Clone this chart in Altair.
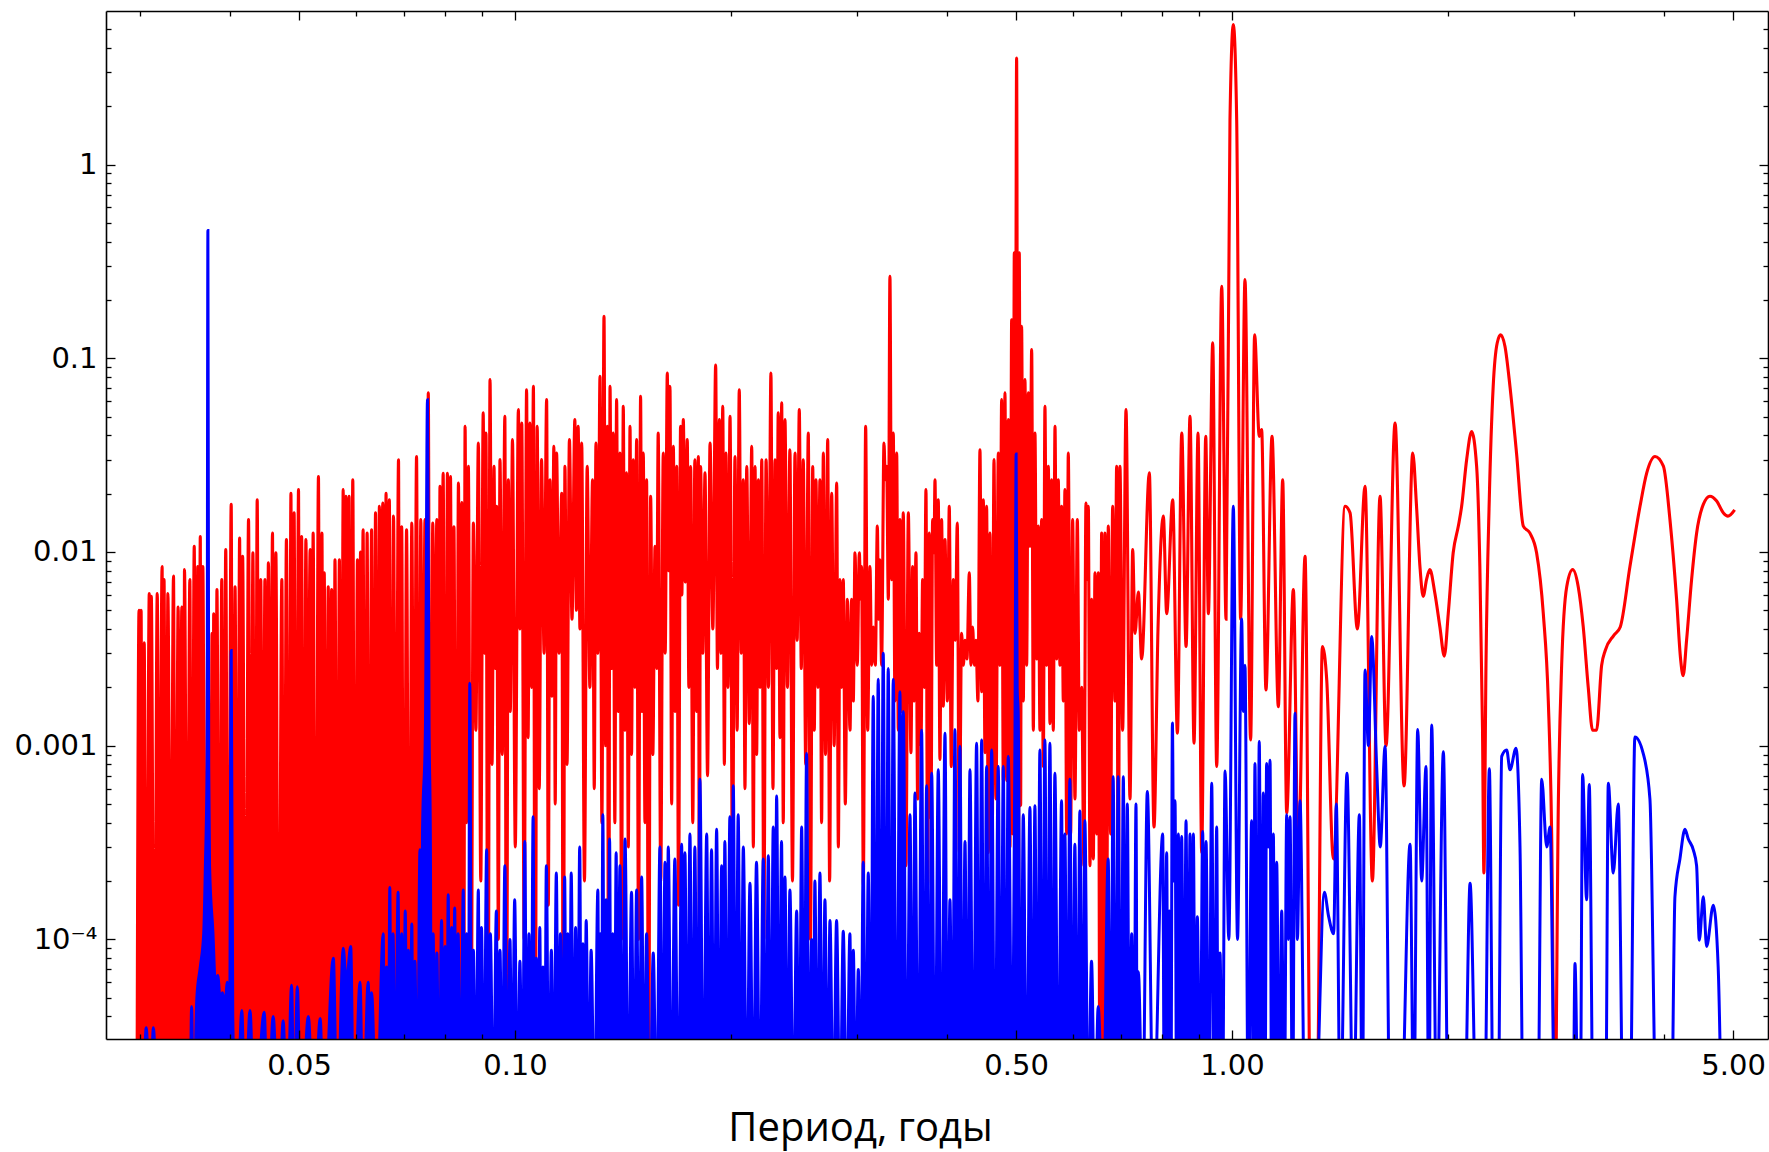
import altair as alt
import pandas as pd

# ---- data: [period (years), power] ----
red_short = [
    [0.0297, 1e-5], [0.0299, 0.0050], [0.0300, 1e-5], [0.0301, 0.0050], [0.0302, 4e-5], [0.0304, 0.0034],
    [0.0306, 1e-5], [0.0309, 0.0061], [0.0310, 5e-5], [0.0311, 0.0059], [0.0314, 1e-5], [0.0317, 0.0061],
    [0.0319, 6e-5], [0.0322, 0.0084], [0.0323, 1e-5], [0.0324, 0.0072], [0.0326, 1e-5], [0.0328, 0.0061],
    [0.0331, 5e-5], [0.0334, 0.0075], [0.0336, 1e-5], [0.0339, 0.0052], [0.0341, 5e-5], [0.0343, 0.0052],
    [0.0345, 1e-5], [0.0346, 0.0081], [0.0349, 4e-5], [0.0352, 0.0072], [0.0354, 1e-5], [0.0357, 0.0107],
    [0.0359, 1e-5], [0.0361, 0.0084], [0.0362, 1e-5], [0.0364, 0.0120], [0.0365, 1e-5], [0.0367, 0.0084],
    [0.0370, 1e-5], [0.0373, 0.0045], [0.0376, 1e-5], [0.0378, 0.0038], [0.0379, 1e-5], [0.0380, 0.0048],
    [0.0382, 1e-5], [0.0384, 0.0064], [0.0387, 1e-5], [0.0390, 0.0072], [0.0392, 1e-5], [0.0395, 0.0103],
    [0.0398, 1e-5], [0.0402, 0.0176], [0.0404, 1e-5], [0.0407, 0.0066], [0.0410, 1e-5], [0.0413, 0.0118],
    [0.0415, 1e-5], [0.0417, 0.0095], [0.0421, 1e-5], [0.0425, 0.0147], [0.0428, 1e-5], [0.0431, 0.0099],
    [0.0434, 1e-5], [0.0437, 0.0186], [0.0440, 1e-5], [0.0442, 0.0072], [0.0445, 4e-5], [0.0448, 0.0072],
    [0.0450, 1e-5], [0.0453, 0.0088], [0.0456, 2e-4], [0.0459, 0.0125], [0.0461, 1e-5], [0.0464, 0.0099],
    [0.0468, 1e-5], [0.0473, 0.0072], [0.0476, 1e-5], [0.0480, 0.0116], [0.0484, 1e-5], [0.0487, 0.0201],
    [0.0489, 1e-5], [0.0492, 0.0159], [0.0495, 1e-5], [0.0499, 0.0210], [0.0501, 1e-5], [0.0504, 0.0120],
    [0.0507, 1e-5], [0.0511, 0.0116], [0.0514, 3e-4], [0.0518, 0.0103], [0.0520, 1e-5], [0.0523, 0.0125],
    [0.0527, 1e-5], [0.0532, 0.0245], [0.0535, 1e-5], [0.0538, 0.0125], [0.0540, 1e-4], [0.0542, 0.0078],
    [0.0545, 1e-5], [0.0549, 0.0066], [0.0552, 1e-5], [0.0555, 0.0064], [0.0558, 1e-5], [0.0561, 0.0091],
    [0.0565, 1e-5], [0.0569, 0.0091], [0.0572, 1e-5], [0.0576, 0.0210], [0.0578, 2e-4], [0.0581, 0.0194],
    [0.0584, 1e-5], [0.0587, 0.0194], [0.0590, 1e-5], [0.0594, 0.0236], [0.0598, 1e-5], [0.0603, 0.0091],
    [0.0606, 1e-5], [0.0609, 0.0100], [0.0611, 5e-4], [0.0614, 0.0130], [0.0618, 1e-5], [0.0622, 0.0125],
    [0.0626, 1e-5], [0.0631, 0.0130], [0.0635, 1e-5], [0.0639, 0.0159], [0.0643, 1e-5], [0.0647, 0.0172],
    [0.0650, 3e-4], [0.0654, 0.0179], [0.0657, 1e-5], [0.0661, 0.0201], [0.0664, 1e-5], [0.0668, 0.0186],
    [0.0672, 1e-5], [0.0677, 0.0153], [0.0682, 1e-4], [0.0688, 0.0299], [0.0691, 1e-5], [0.0695, 0.0135],
    [0.0700, 1e-5], [0.0706, 0.0130], [0.0712, 1e-5], [0.0718, 0.0141], [0.0723, 1e-4], [0.0729, 0.0311],
    [0.0734, 1e-5], [0.0739, 0.0147], [0.0744, 3e-4], [0.0749, 0.0147], [0.0753, 1e-5], [0.0757, 0.0662],
    [0.0762, 1e-5], [0.0768, 0.0141], [0.0773, 8e-4], [0.0778, 0.0147], [0.0782, 1e-5], [0.0786, 0.0218],
    [0.0790, 1e-3], [0.0794, 0.0255], [0.0800, 1e-5], [0.0805, 0.0255], [0.0809, 6e-4], [0.0813, 0.0245],
    [0.0818, 1e-5], [0.0822, 0.0135], [0.0828, 1e-5], [0.0834, 0.0227], [0.0838, 3e-4], [0.0843, 0.0180],
    [0.0848, 1e-5],
]

red_mid = [
    [0.0852, 0.0445], [0.0856, 4e-4], [0.0861, 0.0277], [0.0868, 1e-5], [0.0875, 0.0141], [0.0882, 1.2e-3],
    [0.0889, 0.0365], [0.0896, 2e-4], [0.0903, 0.0522], [0.0907, 3e-3], [0.0911, 0.0411], [0.0917, 1e-5],
    [0.0923, 0.0775], [0.0929, 8e-4], [0.0935, 0.0277], [0.0939, 2.5e-3], [0.0943, 0.0172], [0.0948, 1e-4],
    [0.0953, 0.0300], [0.0960, 9e-4], [0.0968, 0.0501], [0.0973, 1e-5], [0.0979, 0.0236], [0.0985, 1.5e-3],
    [0.0992, 0.0380], [0.1001, 3e-4], [0.1011, 0.0543], [0.1016, 4e-3], [0.1022, 0.0463], [0.1030, 1e-4],
    [0.1038, 0.0688], [0.1043, 1.1e-3], [0.1049, 0.0463], [0.1055, 2e-3], [0.1061, 0.0716], [0.1067, 1e-5],
    [0.1074, 0.0445], [0.1081, 6e-4], [0.1089, 0.0300], [0.1098, 3e-3], [0.1107, 0.0611], [0.1113, 1.5e-4],
    [0.1119, 0.0236], [0.1126, 1.8e-3], [0.1133, 0.0351], [0.1138, 5e-4], [0.1143, 0.0324], [0.1152, 3e-3],
    [0.1162, 0.0201], [0.1168, 1e-5], [0.1174, 0.0277], [0.1182, 8e-4], [0.1191, 0.0380], [0.1201, 4.5e-3],
    [0.1212, 0.0482], [0.1218, 5e-3], [0.1225, 0.0445], [0.1232, 4e-3], [0.1239, 0.0365], [0.1250, 2e-4],
    [0.1261, 0.0277], [0.1272, 2e-3], [0.1283, 0.0236], [0.1290, 6e-4], [0.1297, 0.0365], [0.1305, 3e-3],
    [0.1314, 0.0806], [0.1322, 4e-4], [0.1331, 0.1646], [0.1338, 1e-3], [0.1345, 0.0445], [0.1351, 1e-5],
    [0.1357, 0.0716], [0.1364, 2.5e-3], [0.1371, 0.0411], [0.1378, 4e-4], [0.1386, 0.0611], [0.1393, 1.5e-3],
    [0.1401, 0.0324], [0.1408, 1e-4], [0.1416, 0.0564], [0.1423, 1.2e-3], [0.1431, 0.0256], [0.1439, 3e-4],
    [0.1447, 0.0445], [0.1454, 9e-4], [0.1462, 0.0299], [0.1470, 2e-3], [0.1478, 0.0380], [0.1487, 1e-4],
    [0.1497, 0.0636], [0.1503, 1.5e-3], [0.1510, 0.0324], [0.1518, 4e-4], [0.1526, 0.0236], [0.1536, 1e-5],
    [0.1546, 0.0194], [0.1557, 9e-4], [0.1568, 0.0107], [0.1576, 2.5e-3], [0.1584, 0.0411], [0.1597, 2e-4],
    [0.1610, 0.0324], [0.1620, 3e-3], [0.1631, 0.0839], [0.1638, 8e-3], [0.1645, 0.0716], [0.1654, 5e-4],
    [0.1663, 0.0351], [0.1672, 1.5e-3], [0.1681, 0.0277], [0.1691, 1.5e-4], [0.1702, 0.0445], [0.1709, 6e-3],
    [0.1717, 0.0482], [0.1728, 7e-3], [0.1739, 0.0380], [0.1748, 2e-3], [0.1758, 0.0276], [0.1770, 4e-4],
    [0.1782, 0.0299], [0.1792, 1.5e-3], [0.1802, 0.0311], [0.1808, 1e-4], [0.1815, 0.0276], [0.1828, 3e-3],
    [0.1841, 0.0256], [0.1856, 7e-4], [0.1871, 0.0365], [0.1888, 4e-3], [0.1905, 0.0923], [0.1916, 2.5e-3],
    [0.1928, 0.0482], [0.1938, 3e-3], [0.1949, 0.0564], [0.1959, 8e-4], [0.1969, 0.0324], [0.1982, 2e-3],
    [0.1995, 0.0501], [0.2011, 2e-4], [0.2027, 0.0311], [0.2041, 1.2e-3], [0.2055, 0.0688], [0.2068, 3e-3],
    [0.2082, 0.0236], [0.2093, 6e-4], [0.2105, 0.0276], [0.2122, 1.3e-3], [0.2139, 0.0351], [0.2150, 3e-4],
    [0.2162, 0.0276], [0.2173, 9e-4], [0.2185, 0.0236], [0.2197, 2e-3], [0.2209, 0.0299], [0.2224, 1e-4],
    [0.2240, 0.0299], [0.2257, 2e-3], [0.2275, 0.0839], [0.2290, 6e-4], [0.2305, 0.0299], [0.2317, 2.5e-3],
    [0.2329, 0.0522], [0.2342, 1.1e-3], [0.2355, 0.0588], [0.2367, 4e-4], [0.2380, 0.0482], [0.2399, 2e-3],
    [0.2418, 0.0337], [0.2438, 2e-4], [0.2458, 0.0324], [0.2475, 3.5e-3], [0.2492, 0.0543], [0.2508, 2.5e-3],
    [0.2524, 0.0299], [0.2544, 8e-4], [0.2565, 0.0411], [0.2583, 1e-4], [0.2602, 0.0276], [0.2615, 1.2e-3],
    [0.2629, 0.0236], [0.2646, 2e-3], [0.2663, 0.0236], [0.2677, 4e-4], [0.2692, 0.0324], [0.2711, 9e-4],
    [0.2730, 0.0380], [0.2747, 2e-4], [0.2765, 0.0201], [0.2787, 1e-3], [0.2810, 0.0227], [0.2825, 3e-4],
    [0.2840, 0.0072], [0.2855, 2e-3], [0.2870, 0.0072], [0.2889, 5e-4], [0.2908, 0.0057],
]

red_semiannual = [
    [0.2933, 0.0012], [0.2948, 0.0057], [0.2964, 0.0017], [0.2980, 0.0099], [0.3002, 0.0026], [0.3022, 0.0099],
    [0.3035, 0.0057], [0.3044, 0.0084], [0.3061, 0.00019], [0.3084, 0.0445], [0.3104, 0.0012], [0.3127, 0.0084],
    [0.3144, 0.0026], [0.3161, 0.0041], [0.3181, 0.0026], [0.3202, 0.0136], [0.3215, 0.0045], [0.3229, 0.0091],
    [0.3246, 0.0026], [0.3271, 0.0365], [0.3285, 0.0236], [0.3299, 0.0277], [0.3317, 0.0057], [0.3334, 0.265],
    [0.3352, 0.0072], [0.3370, 0.0411], [0.3388, 0.0017], [0.3407, 0.0324], [0.3425, 0.0012], [0.3443, 0.0147],
    [0.3462, 0.0015], [0.3480, 0.0159], [0.3510, 0.00024], [0.3537, 0.0159], [0.3567, 0.00092], [0.3586, 0.0084],
    [0.3602, 0.0017], [0.3625, 0.0099], [0.3644, 0.00053], [0.3664, 0.0038], [0.3684, 0.0010], [0.3703, 0.0072],
    [0.3723, 0.0020], [0.3743, 0.0210], [0.3763, 0.00019], [0.3783, 0.0125], [0.3804, 0.00042], [0.3824, 0.0147],
    [0.3841, 0.0099], [0.3853, 0.0236], [0.3874, 0.0026], [0.3894, 0.0186], [0.3915, 0.00085], [0.3936, 0.0147],
    [0.3957, 0.0016], [0.3979, 0.0116], [0.4009, 0.0017], [0.4034, 0.0172], [0.4060, 0.00078], [0.4087, 0.0072],
    [0.4113, 0.0035], [0.4139, 0.0141], [0.4166, 0.00028], [0.4197, 0.0038], [0.4220, 0.0026], [0.4243, 0.0035],
    [0.4270, 0.0028], [0.4302, 0.0078], [0.4325, 0.0026], [0.4348, 0.0041], [0.4372, 0.0026], [0.4395, 0.0035],
    [0.4423, 0.0017], [0.4452, 0.0337], [0.4476, 0.0019], [0.4500, 0.0186], [0.4524, 0.00092], [0.4548, 0.0172],
    [0.4573, 0.00028], [0.4597, 0.0125], [0.4627, 0.00019], [0.4657, 0.0300], [0.4687, 0.00053], [0.4722, 0.0324],
    [0.4747, 0.0026], [0.4773, 0.0611], [0.4798, 0.00066], [0.4824, 0.0662], [0.4850, 0.00066], [0.4876, 0.0482],
    [0.4902, 0.00030], [0.4929, 0.158], [0.4950, 0.00035], [0.4971, 0.350], [0.4987, 0.0125], [0.5008, 3.54],
    [0.5035, 1e-5], [0.5051, 0.350], [0.5073, 0.00049], [0.5089, 0.146], [0.5117, 0.0017], [0.5144, 0.0775],
    [0.5172, 0.0026], [0.5200, 0.0662], [0.5227, 0.0107], [0.5256, 0.111], [0.5284, 0.0012], [0.5312, 0.0411],
    [0.5341, 0.0028], [0.5369, 0.0136], [0.5398, 0.0012], [0.5427, 0.0147], [0.5456, 0.00078], [0.5485, 0.0565],
    [0.5515, 0.0026], [0.5545, 0.0277], [0.5574, 0.0013], [0.5604, 0.0236], [0.5634, 0.0012], [0.5665, 0.0445],
    [0.5695, 0.0028], [0.5725, 0.0236], [0.5756, 0.0026], [0.5787, 0.0172], [0.5818, 0.0017], [0.5849, 0.0210],
    [0.5881, 0.00035], [0.5912, 0.0324], [0.5957, 0.00035], [0.5995, 0.0147], [0.6040, 0.00053], [0.6086, 0.0147],
    [0.6125, 0.0012], [0.6171, 0.0020], [0.6217, 0.00024], [0.6257, 0.0179], [0.6284, 0.0072], [0.6305, 0.0172],
    [0.6338, 0.00024], [0.6372, 0.0057], [0.6407, 0.00026], [0.6441, 0.0078], [0.6476, 0.00035], [0.6510, 0.0078],
    [0.6545, 1e-5], [0.6580, 0.0125], [0.6616, 1e-5], [0.6651, 0.0125], [0.6687, 7.2e-5], [0.6723, 0.0136],
    [0.6773, 0.00035], [0.6817, 0.0172], [0.6868, 0.0017], [0.6905, 0.0277], [0.6942, 0.000107], [0.6979, 0.0277],
    [0.7039, 0.0012],
]

red_annual = [
    [0.7116, 0.0543], [0.7208, 0.00053], [0.7270, 0.0103], [0.7325, 0.0038], [0.7404, 0.0062], [0.7483, 0.0028],
    [0.7670, 0.0256], [0.7785, 0.00038], [0.7886, 0.0040], [0.8023, 0.0153], [0.8109, 0.0048], [0.8267, 0.0186],
    [0.8393, 0.00116], [0.8511, 0.0411], [0.8630, 0.00325], [0.8740, 0.0501], [0.8853, 0.00103], [0.8968, 0.0411],
    [0.9074, 0.00028], [0.9192, 0.0395], [0.9271, 0.0048], [0.9401, 0.120], [0.9522, 0.00078], [0.9676, 0.235],
    [0.9812, 0.0045], [0.9937, 1.7], [1.0044, 5.27], [1.0153, 1.7], [1.0283, 0.0045], [1.0427, 0.255],
    [1.0618, 0.00107], [1.0755, 0.132], [1.0917, 0.0395], [1.1000, 0.0428], [1.1154, 0.00194], [1.1373, 0.0395],
    [1.1607, 0.00159], [1.1770, 0.0236], [1.1922, 0.00045], [1.2180, 0.0064], [1.2378, 0.00024], [1.2646, 0.0095],
    [1.2877, 1e-5], [1.3128, 1e-5], [1.3369, 0.00325], [1.3557, 0.00219], [1.3850, 0.00026], [1.4380, 0.0172],
    [1.4613, 0.0159], [1.4960, 0.0040], [1.5333, 0.0218], [1.5698, 0.0002], [1.6089, 0.0194], [1.6403, 0.0010],
    [1.6885, 0.0463], [1.7380, 0.00062], [1.7871, 0.0324],
]

red_long = [
    [1.809, 0.0172], [1.829, 0.0084], [1.848, 0.0059], [1.868, 0.0072], [1.888, 0.0081], [1.919, 0.0061],
    [1.950, 0.0041], [1.978, 0.0029], [2.003, 0.0048], [2.035, 0.0099], [2.069, 0.0136], [2.091, 0.0172],
    [2.125, 0.0300], [2.159, 0.0418], [2.194, 0.0277], [2.217, 0.0084], [2.236, 0.0012], [2.246, 0.00022],
    [2.261, 0.0026], [2.285, 0.0186], [2.314, 0.0716], [2.344, 0.1199], [2.370, 0.132], [2.403, 0.1153],
    [2.442, 0.0716], [2.494, 0.0324], [2.549, 0.0136], [2.604, 0.0125], [2.660, 0.0099], [2.718, 0.0048],
    [2.762, 0.0017], [2.792, 0.00035], [2.821, 1e-5], [2.853, 0.00053], [2.883, 0.0026], [2.930, 0.0066],
    [2.987, 0.0081], [3.041, 0.0066], [3.090, 0.0041], [3.140, 0.0020], [3.184, 0.0012], [3.225, 0.0012],
    [3.278, 0.0026], [3.316, 0.0031], [3.407, 0.0037], [3.480, 0.0041], [3.590, 0.0084], [3.708, 0.0172],
    [3.789, 0.0256], [3.891, 0.0311], [3.997, 0.0277], [4.082, 0.0147], [4.170, 0.0057], [4.224, 0.0028],
    [4.259, 0.0023], [4.306, 0.0035], [4.376, 0.0072], [4.447, 0.0125], [4.544, 0.0176], [4.642, 0.0194],
    [4.743, 0.0183], [4.847, 0.0159], [4.917, 0.0153], [5.025, 0.0165],
]

blue_short = [
    [0.0303, 1e-5], [0.0306, 3.5e-5], [0.0310, 1e-5], [0.0313, 3.5e-5], [0.0318, 1e-5], [0.0352, 1e-5],
    [0.0354, 4.5e-5], [0.0356, 1e-5], [0.0360, 5e-5], [0.0364, 7.2e-5], [0.0368, 1.07e-4], [0.0370, 2.4e-4],
    [0.0372, 7.8e-4], [0.0373, 0.456], [0.0374, 7.8e-4], [0.0375, 2.4e-4], [0.0379, 1.1e-4], [0.0382, 6e-5],
    [0.0385, 6.5e-5], [0.0388, 4.9e-5], [0.0391, 5.3e-5], [0.0394, 4.5e-5], [0.0397, 6e-5], [0.0400, 4e-5],
    [0.0402, 0.0031], [0.0404, 4e-5], [0.0409, 1e-5], [0.0416, 4.3e-5], [0.0420, 1e-5], [0.0427, 4.3e-5],
    [0.0433, 1e-5], [0.0447, 4.2e-5], [0.0452, 1e-5], [0.0460, 4e-5], [0.0468, 1e-5], [0.0475, 3.8e-5],
    [0.0481, 1e-5], [0.0488, 5.8e-5], [0.0492, 1e-5], [0.0497, 5.7e-5], [0.0503, 1e-5], [0.0515, 4e-5],
    [0.0524, 1e-5], [0.0535, 3.9e-5], [0.0541, 1e-5], [0.0558, 8e-5], [0.0565, 1e-5], [0.0576, 9e-5],
    [0.0582, 5.9e-5], [0.0590, 9.2e-5], [0.0596, 1e-5], [0.0608, 6e-5], [0.0614, 1e-5], [0.0624, 6e-5],
    [0.0628, 3e-5], [0.0631, 5.3e-5], [0.0641, 1e-5], [0.0655, 1.07e-4], [0.0658, 1e-5], [0.0662, 7.2e-5],
    [0.0666, 1e-5], [0.0669, 1.85e-4], [0.0672, 1e-5], [0.0676, 1.07e-4], [0.0681, 1e-5], [0.0687, 1.75e-4],
    [0.0691, 1e-5], [0.0695, 1.07e-4], [0.0699, 1e-5], [0.0703, 1.4e-4], [0.0707, 1e-5], [0.0710, 8.8e-5],
    [0.0714, 1e-5], [0.0718, 1.2e-4], [0.0721, 1e-5], [0.0725, 7.7e-5], [0.0731, 1e-5], [0.0737, 2.9e-4],
    [0.0740, 1e-5], [0.0743, 3.5e-4], [0.0750, 1.2e-3], [0.0755, 0.061], [0.0759, 1.2e-3], [0.0762, 3.5e-4],
    [0.0765, 1e-5], [0.0769, 1.07e-4], [0.0773, 1e-5], [0.0778, 8.5e-5], [0.0784, 1e-5], [0.0790, 1.25e-4],
    [0.0795, 1e-5], [0.0799, 9.2e-5], [0.0803, 1e-5], [0.0807, 1.7e-4], [0.0811, 1e-5], [0.0816, 1.15e-4],
    [0.0820, 1e-5], [0.0824, 1.45e-4], [0.0828, 1e-5], [0.0833, 1.07e-4], [0.0840, 1e-5], [0.0847, 1.8e-4],
    [0.0851, 1e-5], [0.0856, 1.07e-4], [0.0861, 1e-5], [0.0865, 2.1e-3], [0.0870, 1e-5], [0.0875, 8.8e-5],
    [0.0882, 1e-5], [0.0889, 1.8e-4], [0.0893, 1e-5], [0.0898, 1.15e-4], [0.0905, 1e-5], [0.0913, 2.9e-4],
    [0.0918, 1e-5], [0.0924, 1.07e-4], [0.0933, 1e-5], [0.0942, 1.4e-4], [0.0947, 1e-5], [0.0953, 8.8e-5],
    [0.0960, 1e-5], [0.0968, 2.4e-4], [0.0976, 1e-5], [0.0984, 1e-4], [0.0991, 1e-5], [0.0999, 1.6e-4],
    [0.1008, 1e-5], [0.1016, 7.7e-5], [0.1024, 1e-5], [0.1032, 3.2e-4], [0.1039, 1e-5], [0.1046, 1.07e-4],
    [0.1053, 1e-5], [0.1060, 4.3e-4], [0.1065, 1e-5], [0.1071, 8e-5], [0.1077, 1e-5], [0.1083, 1.15e-4],
    [0.1088, 1e-5], [0.1094, 7.2e-5], [0.1100, 1e-5], [0.1106, 2.4e-4], [0.1115, 1e-5], [0.1124, 8.8e-5],
    [0.1133, 1e-5], [0.1142, 2.2e-4], [0.1150, 1e-5], [0.1157, 1.07e-4], [0.1165, 1e-5], [0.1173, 2.1e-4],
    [0.1179, 1e-5], [0.1185, 1.07e-4], [0.1191, 1e-5], [0.1198, 2.2e-4], [0.1207, 1e-5], [0.1215, 1.15e-4],
    [0.1223, 1e-5], [0.1231, 3e-4], [0.1238, 1e-5], [0.1244, 9.5e-5], [0.1250, 1e-5], [0.1257, 1.25e-4],
    [0.1267, 1e-5], [0.1277, 8.8e-5], [0.1291, 1e-5], [0.1305, 1.8e-4], [0.1310, 1e-5], [0.1315, 1.07e-4],
    [0.1320, 1e-5], [0.1326, 4.4e-4], [0.1333, 1e-5], [0.1340, 1.6e-4], [0.1347, 1e-5], [0.1355, 3.3e-4],
    [0.1362, 1e-5], [0.1369, 1.07e-4], [0.1376, 1e-5], [0.1384, 2.8e-4],
]

blue_mid = [
    [0.1390, 1e-5], [0.1401, 2.4e-4], [0.1412, 1e-5], [0.1424, 3.3e-4], [0.1439, 1e-5], [0.1454, 1.75e-4],
    [0.1466, 1e-5], [0.1478, 1.8e-4], [0.1490, 1e-5], [0.1502, 2.1e-4], [0.1514, 1e-5], [0.1526, 1.07e-4],
    [0.1542, 1e-5], [0.1559, 8.5e-5], [0.1576, 1e-5], [0.1593, 3e-4], [0.1606, 1e-5], [0.1619, 2.5e-4],
    [0.1627, 1e-5], [0.1636, 3e-4], [0.1653, 1e-5], [0.1671, 2.6e-4], [0.1690, 1e-5], [0.1708, 3.1e-4],
    [0.1717, 1e-5], [0.1726, 2.8e-4], [0.1740, 1e-5], [0.1754, 3.5e-4], [0.1768, 1e-5], [0.1782, 3e-4],
    [0.1796, 1e-5], [0.1811, 6.7e-4], [0.1831, 1e-5], [0.1851, 3.5e-4], [0.1865, 1e-5], [0.1880, 2.9e-4],
    [0.1895, 1e-5], [0.1911, 3.7e-4], [0.1926, 1e-5], [0.1942, 2.4e-4], [0.1952, 1e-5], [0.1962, 3.2e-4],
    [0.1978, 1e-5], [0.1994, 4.3e-4], [0.2005, 1e-5], [0.2016, 6.2e-4], [0.2032, 1e-5], [0.2048, 4.4e-4],
    [0.2065, 1e-5], [0.2082, 3e-4], [0.2105, 1e-5], [0.2127, 1.95e-4], [0.2150, 1e-5], [0.2172, 2.5e-4],
    [0.2196, 1e-5], [0.2220, 2.6e-4], [0.2238, 1e-5], [0.2256, 2.7e-4], [0.2274, 1e-5], [0.2292, 3.8e-4],
    [0.2305, 1e-5], [0.2317, 5.5e-4], [0.2336, 1e-5], [0.2354, 3.2e-4], [0.2367, 1e-5], [0.2380, 2.1e-4],
    [0.2399, 1e-5], [0.2418, 1.8e-4], [0.2445, 1e-5], [0.2471, 1.4e-4], [0.2491, 1e-5], [0.2511, 3.8e-4],
    [0.2531, 1e-5], [0.2551, 9.1e-4], [0.2572, 1e-5], [0.2593, 1e-4], [0.2606, 1e-5], [0.2620, 2e-4],
    [0.2641, 1e-5], [0.2663, 2.2e-4], [0.2684, 1e-5], [0.2706, 1.6e-4], [0.2728, 1e-5], [0.2750, 1.25e-4],
    [0.2780, 1e-5], [0.2809, 1.25e-4], [0.2840, 1e-5], [0.2870, 1.1e-4], [0.2901, 1e-5], [0.2932, 1.07e-4],
    [0.2948, 1e-5], [0.2964, 8.8e-5], [0.2988, 1e-5], [0.3012, 7e-5], [0.3036, 1e-5], [0.3060, 2.5e-4],
    [0.3085, 1e-5], [0.3110, 2.2e-4], [0.3135, 1e-5], [0.3160, 1.8e-3], [0.3185, 1e-5], [0.3211, 2.2e-3],
    [0.3237, 1e-5], [0.3263, 3.0e-3], [0.3290, 1e-5], [0.3316, 2.5e-3], [0.3343, 1e-5], [0.3370, 2.2e-3],
    [0.3406, 1e-5], [0.3443, 1.9e-3], [0.3461, 1e-5], [0.3480, 1.5e-3], [0.3518, 1e-5], [0.3556, 4.4e-4],
    [0.3585, 1e-5], [0.3613, 5.7e-4], [0.3652, 1e-5], [0.3691, 1.2e-3], [0.3721, 1e-5], [0.3751, 6.2e-4],
    [0.3781, 1e-5], [0.3812, 7.2e-4], [0.3853, 1e-5], [0.3894, 7.5e-4], [0.3936, 1e-5], [0.3979, 1.16e-3],
    [0.4011, 1e-5], [0.4043, 1.6e-4], [0.4075, 1e-5], [0.4108, 1.21e-3], [0.4141, 1e-5], [0.4175, 9.9e-4],
    [0.4209, 1e-5], [0.4243, 3.2e-4], [0.4277, 1e-5], [0.4311, 7.5e-4], [0.4357, 1e-5], [0.4404, 1.03e-3],
    [0.4440, 1e-5], [0.4476, 1.07e-3], [0.4512, 1e-5], [0.4548, 7.8e-4], [0.4585, 1e-5], [0.4622, 9.5e-4],
    [0.4671, 1e-5], [0.4721, 7.8e-4], [0.4760, 1e-5], [0.4798, 7.8e-4], [0.4836, 1e-5], [0.4875, 8.8e-4],
    [0.4940, 1e-5], [0.4985, 2e-3], [0.5000, 0.032], [0.5017, 2e-3], [0.5034, 1.44e-3], [0.5075, 1e-5],
    [0.5116, 4.4e-4], [0.5172, 1e-5], [0.5227, 4.8e-4], [0.5269, 1e-5], [0.5311, 4.9e-4], [0.5354, 1e-5],
    [0.5397, 9.5e-4], [0.5440, 1e-5], [0.5484, 1.07e-3], [0.5528, 1e-5], [0.5573, 1.03e-3], [0.5618, 1e-5],
    [0.5663, 7.2e-4], [0.5725, 1e-5], [0.5786, 5.2e-4], [0.5817, 1e-5], [0.5848, 3.5e-4], [0.5895, 1e-5],
    [0.5942, 6.7e-4], [0.5990, 1e-5], [0.6038, 3.1e-4], [0.6087, 1e-5], [0.6136, 4.6e-4], [0.6185, 1e-5],
    [0.6235, 4.1e-4], [0.6302, 1e-5], [0.6370, 7.7e-5], [0.6439, 1e-5], [0.6508, 4.5e-5], [0.6614, 1e-5],
    [0.6720, 2.6e-4], [0.6774, 1e-5], [0.6828, 6.9e-4], [0.6883, 1e-5], [0.6939, 6.9e-4], [0.7000, 1e-5],
]

blue_long = [
    [0.7055, 6.9e-4], [0.7100, 1e-5], [0.7146, 5e-4], [0.7196, 1e-5], [0.7247, 1.07e-4], [0.7298, 1e-5],
    [0.7348, 5e-4], [0.7380, 1e-5], [0.7404, 6.8e-5], [0.7507, 1e-5], [0.7620, 5.8e-4], [0.7769, 1e-5],
    [0.8006, 3.5e-4], [0.8050, 1e-5], [0.8109, 2.8e-4], [0.8145, 1e-5], [0.8179, 1.4e-4], [0.8219, 1e-5],
    [0.8259, 1.31e-3], [0.8295, 2e-4], [0.8329, 5.2e-4], [0.8375, 1e-5], [0.8419, 3.5e-4], [0.8464, 1e-5],
    [0.8509, 3.4e-4], [0.8570, 1e-5], [0.8629, 4.1e-4], [0.8685, 1e-5], [0.8740, 3.5e-4], [0.8790, 1e-5],
    [0.8835, 3.5e-4], [0.8890, 1e-5], [0.8948, 1.31e-4], [0.9025, 1e-5], [0.9103, 3.6e-4], [0.9150, 1e-5],
    [0.9202, 3.2e-4], [0.9285, 1e-5], [0.9371, 6.4e-4], [0.9445, 1e-5], [0.9522, 3.8e-4], [0.9570, 1e-5],
    [0.9624, 8.5e-5], [0.9700, 1e-5], [0.9781, 7.4e-4], [0.9900, 1e-4], [1.0044, 0.0172], [1.0180, 1e-4],
    [1.0316, 4.5e-3], [1.0370, 1.5e-3], [1.0427, 2.6e-3], [1.0540, 1e-5], [1.0652, 4.1e-4], [1.0710, 1e-5],
    [1.0767, 8.1e-4], [1.0840, 1e-5], [1.0917, 1.05e-3], [1.0990, 1e-5], [1.1058, 5.7e-4], [1.1120, 1e-5],
    [1.1177, 8.1e-4], [1.1240, 3e-4], [1.1301, 8.4e-4], [1.1360, 1e-5], [1.1422, 3.5e-4], [1.1480, 1e-5],
    [1.1545, 2.5e-4], [1.1640, 1e-5], [1.1732, 1.4e-4], [1.1830, 1e-5], [1.1922, 4.4e-4], [1.1985, 1e-4],
    [1.2050, 4.3e-4], [1.2150, 1e-5], [1.2245, 1.47e-3], [1.2340, 1e-4], [1.2443, 5.2e-4], [1.2645, 1e-5],
    [1.3050, 1e-5], [1.3453, 1.75e-4], [1.3642, 1.31e-4], [1.3862, 1.07e-4], [1.3982, 5e-4], [1.4162, 1e-5],
    [1.4468, 7.2e-4], [1.4769, 1e-5], [1.5056, 4.4e-4], [1.5200, 1e-5], [1.5332, 2.46e-3], [1.5500, 1e-3],
    [1.5663, 3.66e-3], [1.5916, 7.8e-4], [1.6100, 3e-4], [1.6351, 9.9e-4], [1.6615, 1e-5], [1.7200, 1e-5],
    [1.7718, 3.1e-4], [1.7930, 1e-5], [1.8157, 1.21e-3], [1.8392, 2e-4], [1.8649, 7.8e-4], [1.8820, 1e-5],
    [1.8993, 1.28e-3], [1.9302, 1e-5], [1.9718, 9.3e-4], [2.0038, 1e-5], [2.1100, 1e-5], [2.1484, 1.95e-4],
    [2.1948, 1e-5], [2.2500, 1e-5], [2.2857, 7.6e-4], [2.3152, 1e-5], [2.3500, 1e-5], [2.3781, 8.8e-4],
    [2.4164, 9.5e-4], [2.4424, 7.5e-4], [2.4900, 9.7e-4], [2.5221, 3e-4], [2.5493, 1e-5], [2.6700, 1e-5],
    [2.7039, 6.7e-4], [2.7480, 3e-4], [2.7776, 3.8e-4], [2.8225, 1e-5], [2.9900, 1e-5], [3.0091, 7.5e-5],
    [3.0414, 1e-5], [3.0600, 1e-5], [3.0838, 7.1e-4], [3.1236, 1.6e-4], [3.1504, 6.3e-4], [3.1911, 1e-5],
    [3.3200, 1e-5], [3.3489, 6.4e-4], [3.4030, 2.2e-4], [3.4578, 5e-4], [3.5137, 1e-5], [3.5900, 1e-5],
    [3.6475, 1.11e-3], [3.7468, 9.1e-4], [3.8280, 5.3e-4], [3.9110, 1e-5], [4.1000, 1e-5], [4.1480, 1.66e-4],
    [4.2150, 2.6e-4], [4.2840, 3.7e-4], [4.3300, 3.3e-4], [4.4000, 2.9e-4], [4.4470, 2.4e-4], [4.4854, 9.9e-5],
    [4.5440, 1.66e-4], [4.5920, 9.2e-5], [4.6920, 1.5e-4], [4.7660, 7.2e-5], [4.8190, 1e-5],
]

x_major = [0.05, 0.1, 0.5, 1, 5]
x_minor = [0.03, 0.04, 0.06, 0.07, 0.08, 0.09, 0.2, 0.3, 0.4, 0.6, 0.7, 0.8, 0.9, 2, 3, 4]
y_major = [1e-4, 1e-3, 1e-2, 1e-1, 1]
y_minor = [4e-5, 5e-5, 6e-5, 7e-5, 8e-5, 9e-5,
           2e-4, 3e-4, 4e-4, 5e-4, 6e-4, 7e-4, 8e-4, 9e-4,
           2e-3, 3e-3, 4e-3, 5e-3, 6e-3, 7e-3, 8e-3, 9e-3,
           0.02, 0.03, 0.04, 0.05, 0.06, 0.07, 0.08, 0.09,
           0.2, 0.3, 0.4, 0.5, 0.6, 0.7, 0.8, 0.9, 2, 3, 4, 5]
fill_floor = 1e-5  # lowest trough level used in the series above

cols = ["period", "power"]
red_df = pd.DataFrame(red_short + red_mid + red_semiannual + red_annual + red_long, columns=cols)
red_dense_df = pd.DataFrame(red_short, columns=cols)
blue_df = pd.DataFrame(blue_short + blue_mid + blue_long, columns=cols)
blue_dense_df = pd.DataFrame(blue_short + blue_mid, columns=cols)

W, H = 1662, 1028
x_scale = alt.Scale(type="log", domain=[0.02689, 5.593], nice=False)
y_scale = alt.Scale(type="log", domain=[3.06e-5, 6.2], nice=False)


def tick_axis(orient, values, size, domain=False):
    off = -H if orient in ("top", "bottom") else -W
    return alt.Axis(orient=orient, offset=off, values=values, labels=False, ticks=True,
                    tickSize=size, tickColor="black", tickWidth=1.3, domain=domain,
                    domainColor="black", domainWidth=1.6, grid=False, title=None, zindex=1)


x_label_axis = alt.Axis(
    orient="bottom", values=x_major, format=".2f", ticks=False, tickSize=0, labelPadding=12,
    labelFont="DejaVu Sans", labelFontSize=29, labelColor="black", labelFlush=False,
    labelOverlap=False, domain=True, domainColor="black", domainWidth=1.6, grid=False,
    title="Период, годы", titleFont="Open Sans", titleFontSize=40, titleFontWeight="normal",
    titleColor="black", titleX=754, titleY=101, titleAlign="center", titleBaseline="alphabetic",
    zindex=1)

y_label_axis = alt.Axis(
    orient="left", values=y_major,
    labelExpr="datum.value > 0.5 ? '1' : datum.value > 0.05 ? '0.1' : datum.value > 0.005 ? '0.01' : datum.value > 0.0005 ? '0.001' : '10⁻⁴'",
    ticks=False, tickSize=0, labelPadding=9, labelFont="DejaVu Sans", labelFontSize=29,
    labelColor="black", labelFlush=False, labelOverlap=False, domain=True, domainColor="black",
    domainWidth=1.6, grid=False, title=None, zindex=1)

x_plain = alt.X("period:Q", scale=x_scale, axis=None)
y_plain = alt.Y("power:Q", scale=y_scale, axis=None)

red_fill = alt.Chart(red_dense_df).mark_area(
    color="#ff0000", interpolate="monotone", clip=True
).encode(x=x_plain, y=y_plain, y2=alt.datum(fill_floor))

red_line = alt.Chart(red_df).mark_line(
    color="#ff0000", strokeWidth=3.1, interpolate="monotone", clip=True
).encode(
    x=alt.X("period:Q", scale=x_scale, axis=x_label_axis),
    y=alt.Y("power:Q", scale=y_scale, axis=y_label_axis),
)

blue_fill = alt.Chart(blue_dense_df).mark_area(
    color="#0000ff", interpolate="monotone", clip=True
).encode(x=x_plain, y=y_plain, y2=alt.datum(fill_floor))

blue_line = alt.Chart(blue_df).mark_line(
    color="#0000ff", strokeWidth=3.0, interpolate="monotone", clip=True
).encode(
    x=alt.X("period:Q", scale=x_scale, axis=tick_axis("top", x_minor, 5)),
    y=alt.Y("power:Q", scale=y_scale, axis=tick_axis("right", y_minor, 5)),
)

ghost = alt.Chart(red_df).transform_filter("datum.period > 5").mark_point(opacity=0)
g1 = ghost.encode(
    x=alt.X("period:Q", scale=x_scale, axis=tick_axis("bottom", x_minor, 5, True)),
    y=alt.Y("power:Q", scale=y_scale, axis=tick_axis("left", y_minor, 5, True)),
)
g2 = ghost.encode(
    x=alt.X("period:Q", scale=x_scale, axis=tick_axis("top", x_major, 9)),
    y=alt.Y("power:Q", scale=y_scale, axis=tick_axis("right", y_major, 9)),
)
g3 = ghost.encode(
    x=alt.X("period:Q", scale=x_scale, axis=tick_axis("bottom", x_major, 9)),
    y=alt.Y("power:Q", scale=y_scale, axis=tick_axis("left", y_major, 9)),
)

chart = alt.layer(red_fill, red_line, blue_fill, blue_line, g1, g2, g3).resolve_axis(
    x="independent", y="independent"
).properties(
    width=W, height=H,
    padding={"left": 106, "top": 11, "right": 1, "bottom": 113},
    autosize=alt.AutoSizeParams(type="none"),
    background="white",
).configure_view(strokeWidth=0)

chart.save("out.html", embed_options={"renderer": "svg", "actions": False})
